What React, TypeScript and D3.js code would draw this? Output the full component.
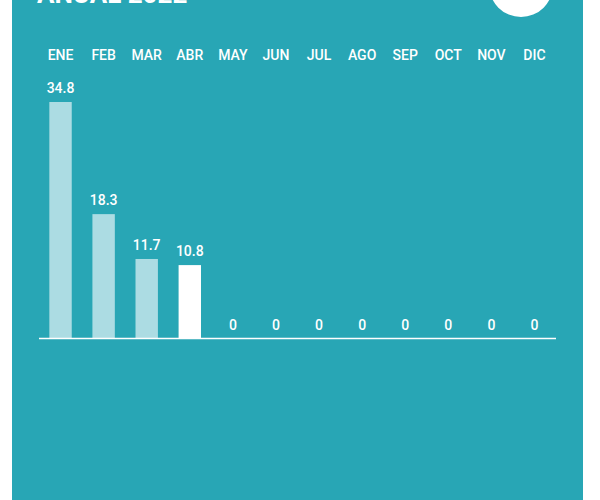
import React from "react";
import * as d3 from "d3";

const months = ["ENE", "FEB", "MAR", "ABR", "MAY", "JUN", "JUL", "AGO", "SEP", "OCT", "NOV", "DIC"];
const values = [34.8, 18.3, 11.7, 10.8, 0, 0, 0, 0, 0, 0, 0, 0];
const currentMonth = "ABR";
const title = "ANUAL 2022";

const W = 600;
const H = 500;
const TEAL = "#28a6b5";
const LIGHT = "#acdce3";

export default function App() {
  const x = d3.scaleBand<string>().domain(months).range([39, 556]).paddingInner(0.48).paddingOuter(0.24);
  const baseY = 338.5;
  const y = d3.scaleLinear().domain([0, 34.8]).range([baseY, 102]);
  const font = "Roboto, 'Noto Sans', sans-serif";

  return (
    <svg width={W} height={H} style={{ position: "absolute", left: 0, top: 0 }} fontFamily={font}>
      <rect x={12} y={0} width={571} height={H} fill={TEAL} />
      <text x={37} y={3} fill="#fff" fontSize={26} fontWeight={700}>{title}</text>
      <circle cx={521} cy={-15} r={32} fill="#fff" />
      {months.map((m) => (
        <text key={"m" + m} x={(x(m) ?? 0) + x.bandwidth() / 2} y={60} fill="#fff" fontSize={14} fontWeight={500} textAnchor="middle">
          {m}
        </text>
      ))}
      {months.map((m, i) => {
        const v = values[i];
        const bx = x(m) ?? 0;
        const cx = bx + x.bandwidth() / 2;
        return (
          <g key={"b" + m}>
            {v > 0 && (
              <rect x={bx} y={y(v)} width={x.bandwidth()} height={baseY - y(v)} fill={m === currentMonth ? "#ffffff" : LIGHT} />
            )}
            <text x={cx} y={y(v) - 9} fill="#fff" fontSize={14} fontWeight={500} textAnchor="middle">
              {String(v)}
            </text>
          </g>
        );
      })}
      <line x1={39} x2={556} y1={baseY} y2={baseY} stroke="#ffffff" strokeWidth={1.5} />
    </svg>
  );
}
